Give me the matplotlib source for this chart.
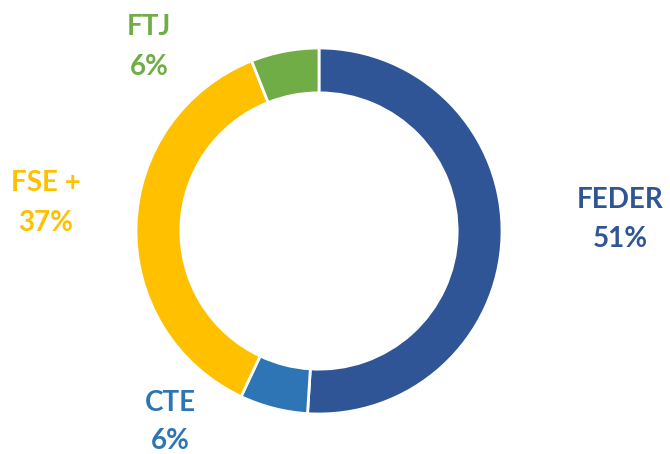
import matplotlib.pyplot as plt

# datos
fondos = ['FEDER', 'CTE', 'FSE +', 'FTJ']
porcentajes = [51, 6, 37, 6]
colores = ['#2F5597', '#2E75B6', '#FFC000', '#70AD47']

W, H = 670, 454
fig = plt.figure(figsize=(W / 100, H / 100), dpi=100)

# centro del anillo y radio en pixeles
cx, cy, r = 319, 231, 183
ax = fig.add_axes([(cx - r) / W, (H - cy - r) / H, 2 * r / W, 2 * r / H])
ax.pie(porcentajes, colors=colores, startangle=90, counterclock=False,
       radius=1, wedgeprops=dict(width=0.245, edgecolor='white', linewidth=2))
ax.set_xlim(-1, 1)
ax.set_ylim(-1, 1)
ax.axis('off')

# posiciones de las etiquetas (x centro, linea base nombre, linea base %), en pixeles
pos = {'FEDER': (620, 208, 247), 'CTE': (170, 411, 449),
       'FSE +': (46, 191, 231), 'FTJ': (149, 35, 75)}
for f, p, c in zip(fondos, porcentajes, colores):
    x, y1, y2 = pos[f]
    fig.text(x / W, 1 - y1 / H, f, color=c, fontsize=20, fontweight='bold',
             family='Lato', ha='center', va='baseline')
    fig.text(x / W, 1 - y2 / H, f'{p}%', color=c, fontsize=20, fontweight='bold',
             family='Lato', ha='center', va='baseline')

fig.savefig('out.png', dpi=100)
